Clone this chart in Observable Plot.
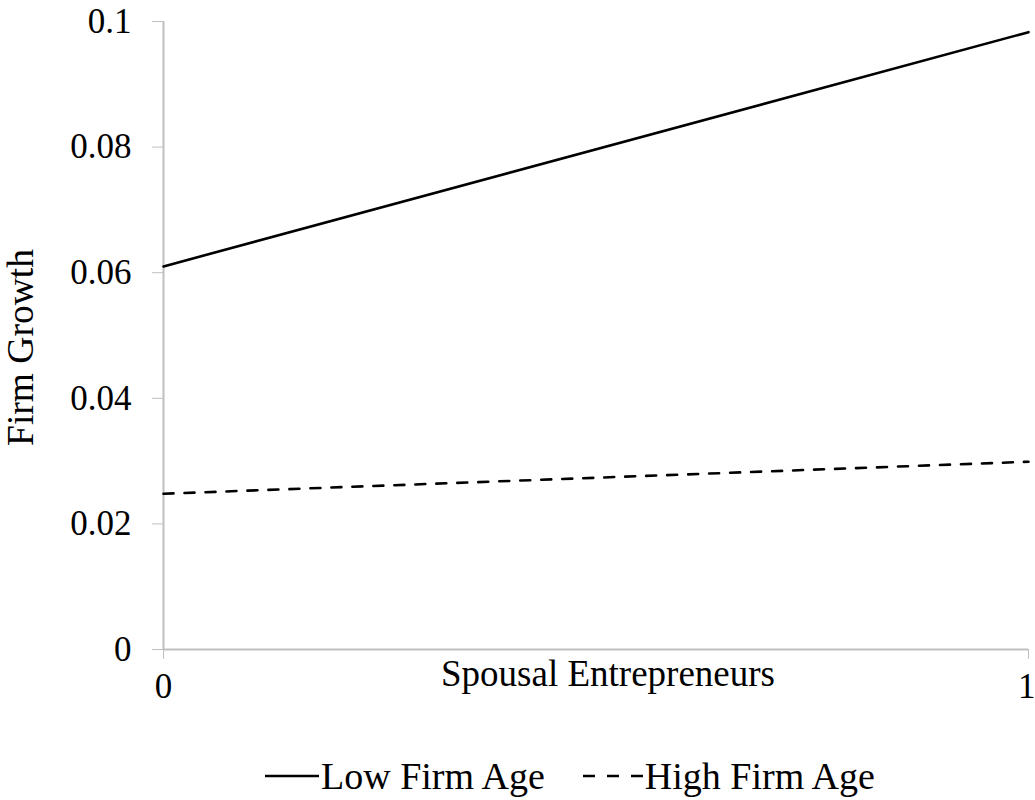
<!DOCTYPE html>
<html>
<head>
<meta charset="utf-8">
<script src="https://cdn.jsdelivr.net/npm/d3@7"></script>
<script src="https://cdn.jsdelivr.net/npm/@observablehq/plot@0.6"></script>
<style>
  html, body { margin: 0; padding: 0; background: #fff; }
  #wrap { position: relative; width: 1035px; height: 800px; font-family: "Liberation Serif", "Times New Roman", serif; }
  #legend { position: absolute; left: 265px; top: 754px; display: flex; align-items: center; font-size: 38px; color: #000; white-space: nowrap; }
  #legend .item { display: flex; align-items: center; }
  #legend svg { display: block; }
</style>
</head>
<body>
<div id="wrap">
  <div id="chart"></div>
  <div id="legend"></div>
</div>
<script>
const xValues = [0, 1];
const xTicks = [0, 1];
const yTicks = [0, 0.02, 0.04, 0.06, 0.08, 0.1];
const seriesNames = ["Low Firm Age", "High Firm Age"];
const lowFirmAge = [0.061, 0.0983];
const highFirmAge = [0.0248, 0.0299];
const xLabel = "Spousal Entrepreneurs";
const yLabel = "Firm Growth";

const low = xValues.map((x, i) => ({x, y: lowFirmAge[i], series: seriesNames[0]}));
const high = xValues.map((x, i) => ({x, y: highFirmAge[i], series: seriesNames[1]}));

const axisColor = "#bfbfbf";
const font = "Liberation Serif, Times New Roman, serif";

const plot = Plot.plot({
  width: 1035,
  height: 720,
  marginTop: 21,
  marginBottom: 71,
  marginLeft: 163,
  marginRight: 7,
  style: {fontFamily: font, fontSize: "35px", color: "#000", background: "#fff"},
  x: {domain: [0, 1]},
  y: {domain: [0, 0.1]},
  marks: [
    Plot.axisY({
      ticks: yTicks,
      tickFormat: d3.format("~g"),
      tickSize: 11,
      tickPadding: 21,
      stroke: axisColor,
      fill: "#000",
      fontSize: 35,
      label: null
    }),
    // tick marks for x
    Plot.axisX({
      ticks: xTicks,
      tickFormat: () => "",
      tickSize: 10,
      stroke: axisColor,
      label: null
    }),
    // first x tick label (centred)
    Plot.axisX({
      ticks: xTicks.slice(0, 1),
      tickFormat: d3.format("d"),
      tickSize: 0,
      tickPadding: 24,
      fill: "#000",
      fontSize: 35,
      label: null
    }),
    // last x tick label (kept inside the right edge)
    Plot.axisX({
      ticks: xTicks.slice(1),
      tickFormat: d3.format("d"),
      tickSize: 0,
      tickPadding: 24,
      textAnchor: "end",
      dx: 7,
      fill: "#000",
      fontSize: 35,
      label: null
    }),
    Plot.text([xLabel], {
      text: d => d,
      frameAnchor: "bottom",
      lineAnchor: "bottom",
      textAnchor: "middle",
      dx: 12,
      dy: 36,
      fontSize: 37,
      fill: "#000"
    }),
    Plot.text([yLabel], {
      text: d => d,
      frameAnchor: "left",
      lineAnchor: "top",
      textAnchor: "middle",
      rotate: -90,
      dx: -157,
      dy: 12,
      fontSize: 37.5,
      fill: "#000"
    }),
    Plot.ruleX([0], {stroke: axisColor, strokeWidth: 2}),
    Plot.ruleY([0], {stroke: axisColor, strokeWidth: 2}),
    Plot.line(low, {x: "x", y: "y", stroke: "#000", strokeWidth: 2.6}),
    Plot.line(high, {x: "x", y: "y", stroke: "#000", strokeWidth: 2.6, strokeDasharray: "10,11"})
  ]
});
document.getElementById("chart").appendChild(plot);

const legend = document.getElementById("legend");
const swatches = [
  {name: seriesNames[0], dash: null, gap: 0, w: 54},
  {name: seriesNames[1], dash: "12,12", gap: 38, w: 60}
];
swatches.forEach(s => {
  const item = document.createElement("div");
  item.className = "item";
  item.style.marginLeft = s.gap + "px";
  const sv = d3.create("svg").attr("width", s.w).attr("height", 10);
  sv.append("line").attr("x1", 0).attr("x2", s.w).attr("y1", 5).attr("y2", 5)
    .attr("stroke", "#000").attr("stroke-width", 2.6)
    .attr("stroke-dasharray", s.dash);
  item.appendChild(sv.node());
  const t = document.createElement("span");
  t.textContent = s.name;
  t.style.marginLeft = "2px";
  item.appendChild(t);
  legend.appendChild(item);
});
</script>
</body>
</html>
